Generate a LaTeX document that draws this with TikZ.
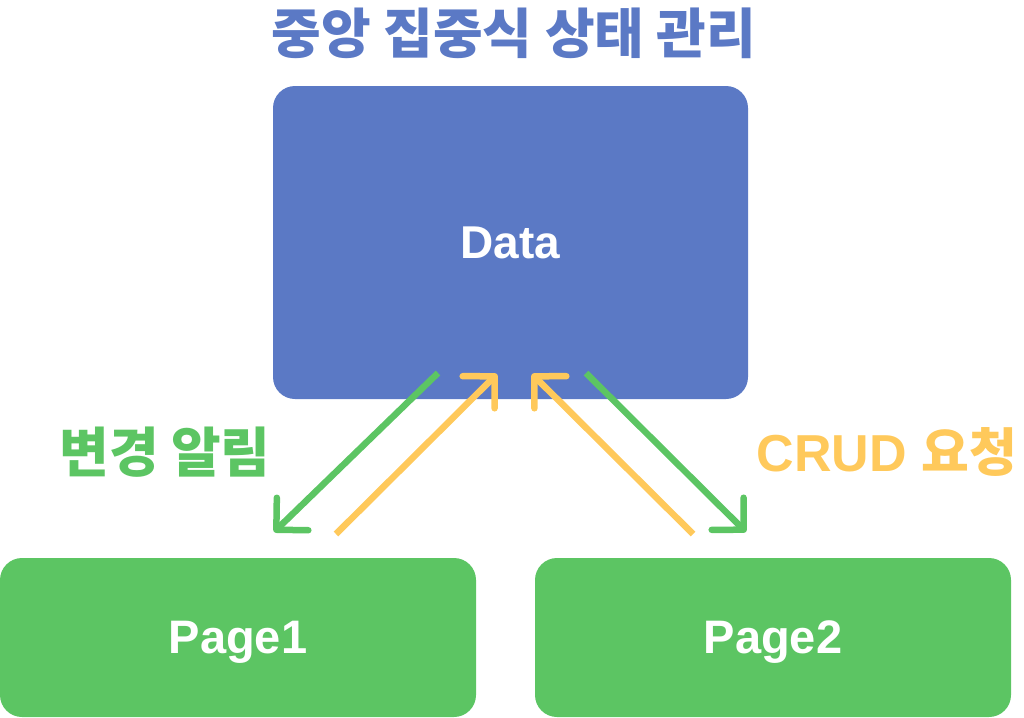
\documentclass[tikz,border=0pt]{standalone}
\usepackage{fontspec}
\setmainfont{Liberation Sans}
\newfontfamily\kr{Noto Sans CJK KR}
\usetikzlibrary{arrows.meta}
\definecolor{cblue}{HTML}{5B79C5}
\definecolor{cgreen}{HTML}{5CC563}
\definecolor{cyellow}{HTML}{FFC95B}
\tikzset{
  box/.style={rounded corners=22pt, inner sep=0pt, text=white, font=\bfseries\fontsize{47}{50}\selectfont, text depth=0pt},
  conn/.style={line width=6.5pt, -{Straight Barb[angle=90:32pt, round]}},
}
\begin{document}
\begin{tikzpicture}[x=1pt,y=-1pt]
\useasboundingbox (0,0) rectangle (1024,717);
\node[text=cblue, font=\kr\bfseries\fontsize{54}{58}\selectfont] (title) at (514,33) {중앙 집중식 상태 관리};
\node[box, fill=cblue, minimum width=475pt, minimum height=313pt, font=\bfseries\fontsize{46}{48}\selectfont] (data) at (510.5,242.5) {Data};
\node[box, fill=cgreen, minimum width=476pt, minimum height=159pt] (p1) at (238,637.5) {Page1};
\node[box, fill=cgreen, minimum width=476pt, minimum height=159pt] (p2) at (773,637.5) {Page2};
\node[text=cgreen, font=\kr\bfseries\fontsize{54}{58}\selectfont] (l1) at (165,452) {변경 알림};
\node[text=cyellow, font=\bfseries\fontsize{52}{56}\selectfont] (l2) at (887,452) {CRUD {\kr 요청}};
\coordinate (g1s) at (438,373);
\coordinate (g1e) at (274,532);
\coordinate (y1s) at (336,534);
\coordinate (y1e) at (497,374);
\coordinate (y2s) at (693,534);
\coordinate (y2e) at (532,374);
\coordinate (g2s) at (586,373);
\coordinate (g2e) at (746,532);
\draw[conn, cgreen] (g1s) -- (g1e);
\draw[conn, cyellow] (y1s) -- (y1e);
\draw[conn, cyellow] (y2s) -- (y2e);
\draw[conn, cgreen] (g2s) -- (g2e);
\end{tikzpicture}
\end{document}
